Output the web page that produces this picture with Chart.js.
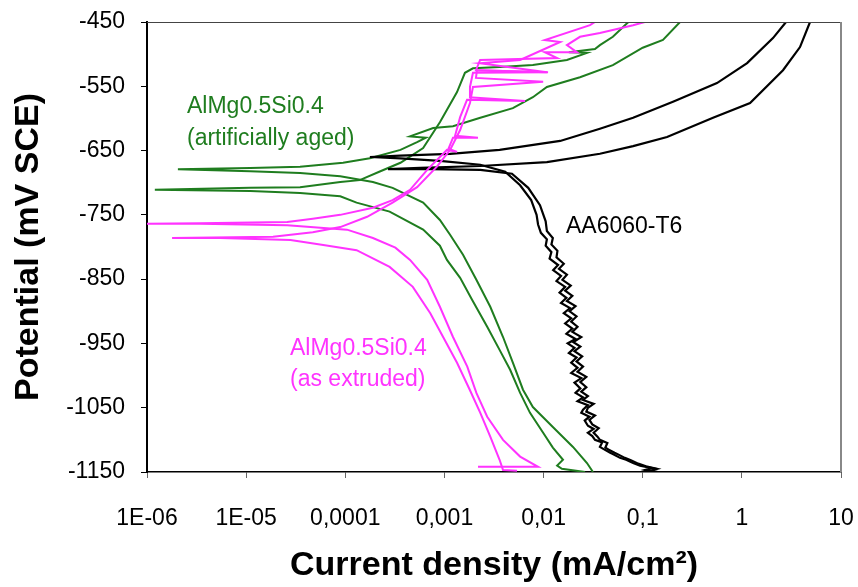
<!DOCTYPE html>
<html>
<head>
<meta charset="utf-8">
<script src="https://cdn.jsdelivr.net/npm/chart.js@4.4.0/dist/chart.umd.min.js"></script>
<style>
  html, body { margin: 0; padding: 0; background: #fff; }
  canvas { display: block; }
</style>
</head>
<body>
<canvas id="chart" width="858" height="587"></canvas>
<script>
const FONT = "'Liberation Sans', Arial, sans-serif";
const GREEN = "#1f7d1f";
const PINK = "#ff33ff";
const BLACK = "#000000";

const xTickValues = [1e-6, 1e-5, 1e-4, 1e-3, 1e-2, 1e-1, 1, 10];
const xTickLabels = ["1E-06", "1E-05", "0,0001", "0,001", "0,01", "0,1", "1", "10"];
const yTickValues = [-1150, -1050, -950, -850, -750, -650, -550, -450];

// [current density (mA/cm2), potential (mV SCE)]
const aa6060A = [[0.124,-1150],[0.105,-1147],[0.125,-1144],[0.094,-1140],[0.08,-1136],[0.068,-1131],[0.059,-1128],[0.05,-1122],[0.047,-1120],[0.04,-1114],[0.037,-1111],[0.039,-1104],[0.033,-1100],[0.031,-1094],[0.028,-1089],[0.032,-1083],[0.028,-1078],[0.026,-1070],[0.029,-1064],[0.024,-1058],[0.025,-1053],[0.028,-1046],[0.022,-1040],[0.025,-1034],[0.021,-1027],[0.0235,-1020],[0.0205,-1011],[0.024,-1004],[0.019,-996],[0.022,-988],[0.019,-980],[0.0215,-972],[0.018,-965],[0.0205,-957],[0.0175,-950],[0.021,-943],[0.017,-935],[0.0195,-927],[0.0165,-919],[0.019,-911],[0.016,-903],[0.0185,-895],[0.015,-887],[0.017,-879],[0.0145,-871],[0.0165,-862],[0.0135,-853],[0.015,-845],[0.0125,-836],[0.014,-828],[0.0115,-818],[0.012,-808],[0.0105,-798],[0.0108,-788],[0.0094,-778],[0.0088,-765],[0.0085,-750],[0.0075,-727],[0.0058,-704],[0.0041,-683],[0.0023,-672],[0.0009,-666],[0.00036,-662],[0.000177,-660],[0.00036,-658],[0.00114,-655],[0.0036,-649],[0.0147,-635],[0.037,-616],[0.080,-599],[0.202,-574],[0.561,-545],[1.13,-514],[2.06,-475],[2.79,-450]];
const aa6060B = [[0.143,-1150],[0.12,-1148],[0.14,-1145],[0.108,-1141],[0.09,-1137],[0.077,-1132],[0.066,-1128],[0.057,-1123],[0.052,-1120],[0.045,-1115],[0.042,-1112],[0.044,-1105],[0.037,-1100],[0.035,-1095],[0.032,-1089],[0.036,-1082],[0.031,-1076],[0.029,-1069],[0.033,-1062],[0.027,-1056],[0.028,-1050],[0.032,-1044],[0.025,-1038],[0.028,-1032],[0.024,-1025],[0.027,-1018],[0.0235,-1010],[0.027,-1002],[0.022,-994],[0.025,-986],[0.0215,-978],[0.0245,-970],[0.0205,-962],[0.0235,-955],[0.02,-948],[0.024,-940],[0.0195,-932],[0.022,-924],[0.019,-916],[0.0215,-908],[0.0183,-900],[0.021,-892],[0.0172,-884],[0.0195,-876],[0.0165,-868],[0.0188,-860],[0.0155,-851],[0.0172,-843],[0.0143,-834],[0.016,-826],[0.0135,-816],[0.0138,-806],[0.012,-796],[0.0124,-786],[0.0108,-775],[0.0105,-760],[0.0092,-735],[0.007,-708],[0.0048,-686],[0.0023,-680],[0.00072,-679],[0.00027,-679],[0.00057,-677],[0.0023,-674],[0.0108,-668],[0.037,-655],[0.080,-643],[0.176,-629],[0.512,-599],[1.21,-576],[2.6,-525],[3.86,-489],[4.87,-450]];
const agedA = [[0.0315,-1150],[0.0274,-1136],[0.0198,-1111],[0.0124,-1080],[0.0078,-1049],[0.0062,-1022],[0.0049,-980],[0.0039,-940],[0.0029,-893],[0.0021,-851],[0.00154,-812],[0.00114,-781],[0.0009,-758],[0.00061,-731],[0.0003,-708],[0.00019,-699],[8.9e-5,-690],[3.5e-5,-685],[1.1e-5,-682],[2.05e-6,-679],[1.1e-5,-677],[3.5e-5,-675],[9.5e-5,-669],[0.000177,-662],[0.00036,-649],[0.00053,-637],[0.00065,-630],[0.00045,-628],[0.00077,-615],[0.00122,-612],[0.0023,-599],[0.0049,-584],[0.0078,-567],[0.0108,-551],[0.0233,-536],[0.050,-517],[0.10,-490],[0.16,-478],[0.238,-450]];
const agedB = [[0.0262,-1150],[0.0153,-1145],[0.0137,-1140],[0.0157,-1131],[0.0124,-1112],[0.0099,-1089],[0.0073,-1058],[0.0058,-1027],[0.0046,-991],[0.0036,-960],[0.0027,-924],[0.0019,-882],[0.00144,-848],[0.00106,-820],[0.0009,-798],[0.00061,-773],[0.00028,-745],[0.00013,-731],[8.9e-5,-721],[3.5e-5,-716],[1.1e-5,-713],[1.2e-6,-711],[1.1e-5,-708],[3.5e-5,-707],[8.9e-5,-699],[0.00014,-696],[0.00022,-683],[0.00036,-669],[0.00061,-646],[0.0009,-606],[0.00134,-559],[0.00161,-529],[0.00194,-522],[0.0036,-520],[0.0078,-517],[0.0172,-509],[0.0274,-498],[0.018,-497],[0.033,-492],[0.037,-486],[0.050,-473],[0.0695,-452],[0.072,-450]];
const extrudedA = [[0.00218,-1142],[0.0088,-1142],[0.0058,-1126],[0.0039,-1100],[0.0027,-1064],[0.0021,-1027],[0.0017,-986],[0.00122,-940],[0.0009,-893],[0.00067,-851],[0.00045,-820],[0.00032,-801],[0.00019,-786],[0.000104,-773],[5.6e-5,-770],[2.6e-5,-766],[3.4e-6,-764],[1e-6,-764],[3.4e-6,-763],[2.6e-5,-761],[4.7e-5,-756],[8.9e-5,-750],[0.00019,-739],[0.0003,-727],[0.00045,-711],[0.00067,-680],[0.0009,-660],[0.00106,-649],[0.00134,-652],[0.0011,-647],[0.00122,-630],[0.00218,-630],[0.00128,-627],[0.00144,-598],[0.00169,-571],[0.0065,-573],[0.00177,-567],[0.00181,-551],[0.00194,-529],[0.0111,-528],[0.00208,-525],[0.00229,-509],[0.0137,-506],[0.0103,-497],[0.0217,-497],[0.0172,-486],[0.0233,-473],[0.037,-467],[0.080,-455],[0.105,-450]];
const extrudedB = [[0.0054,-1148],[0.0039,-1147],[0.0036,-1131],[0.0029,-1095],[0.0023,-1058],[0.0018,-1022],[0.00134,-980],[0.00097,-940],[0.00072,-903],[0.00048,-862],[0.00028,-831],[0.00013,-805],[6e-5,-797],[2.8e-5,-789],[5.5e-6,-786],[1.79e-6,-786],[1.87e-5,-784],[4.7e-5,-777],[8.9e-5,-769],[0.000166,-753],[0.0003,-731],[0.00053,-707],[0.00084,-675],[0.00114,-649],[0.00144,-618],[0.00181,-576],[0.00194,-551],[0.0099,-543],[0.00208,-537],[0.00213,-525],[0.0108,-528],[0.00229,-514],[0.0058,-509],[0.0147,-481],[0.0103,-478],[0.0294,-455],[0.033,-450]];

const notes = [
  { text: "AlMg0.5Si0.4", color: GREEN, x: 187, y: 107 },
  { text: "(artificially aged)", color: GREEN, x: 187, y: 139 },
  { text: "AlMg0.5Si0.4", color: PINK, x: 290, y: 349 },
  { text: "(as extruded)", color: PINK, x: 290, y: 380 },
  { text: "AA6060-T6", color: BLACK, x: 566, y: 227 },
];

function curve(points, color, width) {
  return {
    data: points.map((p) => ({ x: p[0], y: p[1] })),
    borderColor: color,
    borderWidth: width,
    pointRadius: 0,
    showLine: true,
    tension: 0,
  };
}

const framePlugin = {
  id: "frameAndNotes",
  afterDraw(chart) {
    const ctx = chart.ctx;
    const a = chart.chartArea;
    ctx.save();
    ctx.strokeStyle = "#444";
    ctx.lineWidth = 1;
    ctx.beginPath();
    ctx.moveTo(a.left, a.top + 0.5);
    ctx.lineTo(a.right, a.top + 0.5);
    ctx.stroke();
    ctx.strokeStyle = "#888";
    ctx.lineWidth = 2;
    ctx.beginPath();
    ctx.moveTo(a.right, a.top);
    ctx.lineTo(a.right, a.bottom);
    ctx.stroke();
    ctx.font = "23px " + FONT;
    ctx.textBaseline = "middle";
    notes.forEach((n) => {
      ctx.fillStyle = n.color;
      ctx.fillText(n.text, n.x, n.y);
    });
    ctx.restore();
  },
};

new Chart(document.getElementById("chart"), {
  type: "scatter",
  data: {
    datasets: [
      curve(extrudedA, PINK, 2),
      curve(extrudedB, PINK, 2),
      curve(aa6060A, BLACK, 2.2),
      curve(aa6060B, BLACK, 2.2),
      curve(agedA, GREEN, 2),
      curve(agedB, GREEN, 2),
    ],
  },
  options: {
    responsive: false,
    animation: false,
    layout: { padding: { left: 0, right: 17, top: 22, bottom: 0 } },
    plugins: { legend: { display: false }, tooltip: { enabled: false } },
    scales: {
      x: {
        type: "logarithmic",
        min: 1e-6,
        max: 10,
        afterBuildTicks: (s) => { s.ticks = xTickValues.map((v) => ({ value: v })); },
        afterFit: (s) => { s.height = 115; s.paddingLeft = 0; s.paddingRight = 0; },
        grid: { drawOnChartArea: false, drawTicks: true, tickLength: 6, tickColor: "#666" },
        border: { color: "#000", width: 1.5 },
        ticks: {
          autoSkip: false,
          maxRotation: 0,
          padding: 27,
          color: "#000",
          font: { family: FONT, size: 23 },
          callback: (v, i) => xTickLabels[i],
        },
        title: {
          display: true,
          text: "Current density (mA/cm²)",
          color: "#000",
          font: { family: FONT, size: 34, weight: "bold" },
          padding: { top: 0, bottom: 1 },
        },
      },
      y: {
        min: -1150,
        max: -450,
        afterBuildTicks: (s) => { s.ticks = yTickValues.map((v) => ({ value: v })); },
        afterFit: (s) => { s.width = 147; s.paddingTop = 0; s.paddingBottom = 0; },
        grid: { drawOnChartArea: false, drawTicks: true, tickLength: 6, tickColor: "#000" },
        border: { color: "#000", width: 2 },
        ticks: {
          padding: 16,
          color: "#000",
          font: { family: FONT, size: 23 },
          callback: (v) => String(v),
        },
        title: {
          display: true,
          text: "Potential (mV SCE)",
          color: "#000",
          font: { family: FONT, size: 34, weight: "bold" },
          padding: { top: 8, bottom: 0 },
        },
      },
    },
  },
  plugins: [framePlugin],
});
</script>
</body>
</html>
